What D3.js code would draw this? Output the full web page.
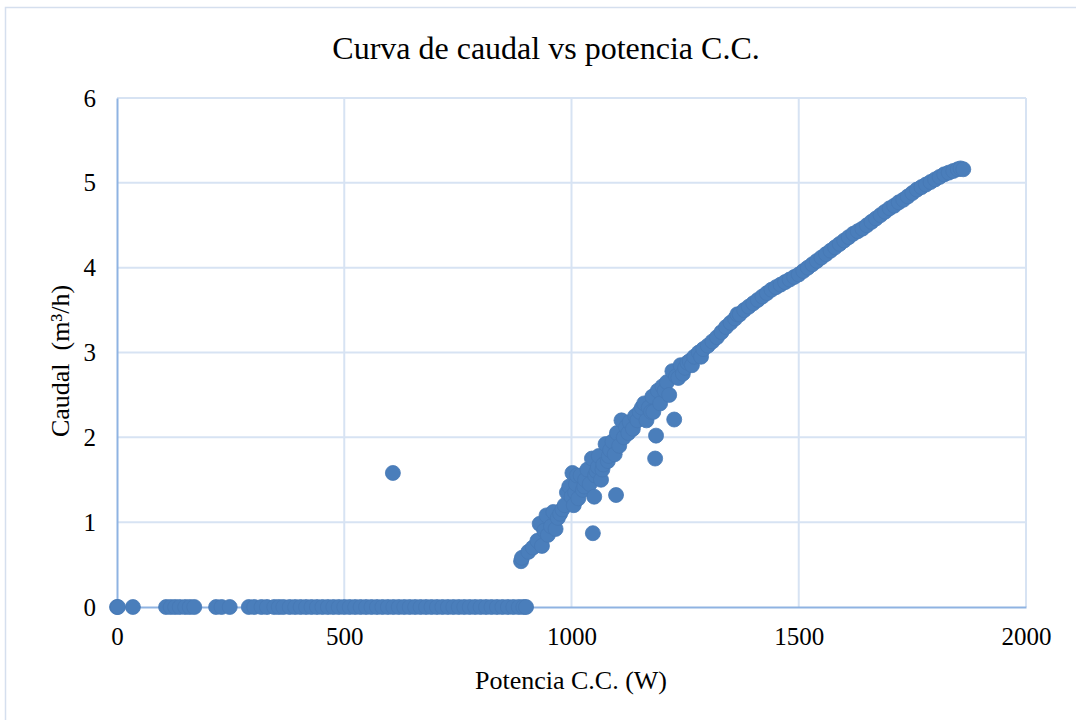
<!DOCTYPE html>
<html>
<head>
<meta charset="utf-8">
<script src="https://cdn.jsdelivr.net/npm/d3@7"></script>
<style>
  body { margin: 0; background: #fff; }
  text { font-family: "Liberation Serif", "Times New Roman", serif; fill: #000; }
</style>
</head>
<body>
<svg width="1076" height="720"></svg>
<script>
const width = 1076;
const height = 720;

// points that sit on zero flow (W)
const zeroPower = [0, 2, 35, 108, 118, 128, 138, 150, 160, 170, 218, 230, 248, 290, 302, 318, 330,
    346, 356, 366, 380, 392, 404, 416, 428, 440, 452, 464, 476, 488, 500, 512, 524, 536, 548,
    560, 572, 584, 596, 608, 620, 632, 644, 656, 668, 680, 692, 704, 716, 728, 740, 752, 764,
    776, 788, 800, 812, 824, 836, 848, 860, 872, 884, 894, 900];

// scattered points (power W, flow m3/h)
const power = [607, 889, 891, 905, 915, 925, 930, 935, 940, 945, 948, 955, 960, 965, 970, 975,
    980, 985, 990, 995, 1000, 1002, 1005, 1008, 1010, 1012, 1015, 1020, 1025, 1028, 1030, 1035,
    1040, 1045, 1047, 1050, 1052, 1055, 1058, 1060, 1065, 1068, 1070, 1075, 1080, 1082, 1085,
    1090, 1095, 1098, 1100, 1105, 1110, 1115, 1120, 1125, 1128, 1135, 1140, 1145, 1150, 1155,
    1160, 1165, 1170, 1175, 1178, 1180, 1184, 1186, 1190, 1195, 1200, 1205, 1210, 1215, 1222,
    1226, 1230, 1235, 1240, 1245, 1250, 1255, 1260, 1265,
    1270, 1280, 1285, 1290, 1300, 1310, 1320, 1330, 1340, 1350, 1360, 1365, 1370, 1380, 1390,
    1400, 1410, 1420, 1430, 1440, 1450, 1460, 1470, 1480, 1490, 1500, 1510, 1520, 1530,
    1540, 1550, 1560, 1570, 1580, 1590, 1600, 1610, 1620, 1630, 1640, 1650, 1660, 1670, 1680,
    1690, 1700, 1710, 1720, 1730, 1740, 1750, 1760, 1770, 1780, 1790, 1800, 1810, 1820, 1830,
    1840, 1850, 1856, 1862];
const flow = [1.58, 0.54, 0.58, 0.65, 0.70, 0.78, 0.98, 0.72, 0.90, 1.08, 0.85, 0.95, 1.12, 0.92, 1.05, 1.10,
    1.15, 1.20, 1.35, 1.42, 1.30, 1.58, 1.20, 1.35, 1.45, 1.55, 1.28, 1.55, 1.38, 1.42, 1.50, 1.62,
    1.45, 1.75, 0.87, 1.30, 1.55, 1.60, 1.65, 1.78, 1.50, 1.62, 1.68, 1.92, 1.72, 1.78, 1.85,
    1.95, 1.80, 1.32, 2.05, 1.90, 2.20, 2.00, 2.12, 2.05, 2.18, 2.10, 2.25, 2.20, 2.30, 2.35,
    2.40, 2.20, 2.35, 2.30, 2.48, 2.30, 1.75, 2.02, 2.55, 2.40, 2.60, 2.55, 2.65, 2.50, 2.78,
    2.21, 2.72, 2.70, 2.85, 2.75, 2.82, 2.88, 2.90, 2.85,
    2.95, 3.00, 2.95, 3.04, 3.08, 3.13, 3.18, 3.24, 3.30, 3.35, 3.40, 3.45, 3.45, 3.50, 3.54,
    3.58, 3.62, 3.66, 3.70, 3.74, 3.77, 3.80, 3.83, 3.86, 3.89, 3.92, 3.96, 4.00, 4.04,
    4.08, 4.12, 4.16, 4.20, 4.24, 4.28, 4.32, 4.36, 4.40, 4.43, 4.46, 4.50, 4.54, 4.58, 4.62,
    4.66, 4.70, 4.73, 4.77, 4.80, 4.84, 4.88, 4.92, 4.95, 4.98, 5.01, 5.04, 5.07, 5.10, 5.12,
    5.14, 5.16, 5.17, 5.16];

const xTicks = [0, 500, 1000, 1500, 2000];
const yTicks = [0, 1, 2, 3, 4, 5, 6];

const svg = d3.select("svg");

//outer chart border
svg.append("rect")
    .attr("x", 5.5)
    .attr("y", 7.5)
    .attr("width", 1100)
    .attr("height", 740)
    .attr("fill", "#fff")
    .attr("stroke", "#d5dfee")
    .attr("stroke-width", 1.5);

const x = d3.scaleLinear().domain([0, 2000]).range([117, 1026]);
const y = d3.scaleLinear().domain([0, 6]).range([607, 98]);

//grid lines
svg.append("g")
    .selectAll("line")
    .data(xTicks.slice(1))
    .enter()
    .append("line")
    .attr("x1", d => x(d))
    .attr("x2", d => x(d))
    .attr("y1", y(6))
    .attr("y2", y(0))
    .attr("stroke", "#d7e3f3")
    .attr("stroke-width", 2);

svg.append("g")
    .selectAll("line")
    .data(yTicks.slice(1))
    .enter()
    .append("line")
    .attr("x1", x(0))
    .attr("x2", x(2000))
    .attr("y1", d => y(d))
    .attr("y2", d => y(d))
    .attr("stroke", "#d7e3f3")
    .attr("stroke-width", 2);

//axes
const xAxis = d3.axisBottom(x).tickValues(xTicks).tickFormat(d3.format("d")).tickSize(0).tickPadding(20);
const yAxis = d3.axisLeft(y).tickValues(yTicks).tickFormat(d3.format("d")).tickSize(0).tickPadding(21);

const gx = svg.append("g")
    .attr("transform", "translate(0," + y(0) + ")")
    .call(xAxis);
const gy = svg.append("g")
    .attr("transform", "translate(" + x(0) + ",0)")
    .call(yAxis);

[gx, gy].forEach(g => {
    g.select(".domain").attr("stroke", "#8fb3e2").attr("stroke-width", 2);
    g.selectAll("text")
        .style("font-family", "'Liberation Serif', serif")
        .style("font-size", "25px")
        .attr("fill", "#000");
});

//markers
const pts = zeroPower.map(p => [p, 0]).concat(power.map((p, i) => [p, flow[i]]));
svg.append("g")
    .selectAll("circle")
    .data(pts)
    .enter()
    .append("circle")
    .attr("cx", d => x(d[0]))
    .attr("cy", d => y(d[1]))
    .attr("r", 7.5)
    .attr("fill", "#4a7ebb")
    .attr("stroke", "#4678b5")
    .attr("stroke-width", 0.8);

//titles
svg.append("text")
    .attr("x", 546)
    .attr("y", 59)
    .attr("text-anchor", "middle")
    .style("font-size", "32px")
    .text("Curva de caudal vs potencia C.C.");

svg.append("text")
    .attr("x", 571)
    .attr("y", 689)
    .attr("text-anchor", "middle")
    .style("font-size", "26px")
    .text("Potencia C.C. (W)");

svg.append("text")
    .attr("transform", "translate(69,361) rotate(-90)")
    .attr("text-anchor", "middle")
    .style("font-size", "26px")
    .style("white-space", "pre")
    .text("Caudal  (m³/h)");
</script>
</body>
</html>
